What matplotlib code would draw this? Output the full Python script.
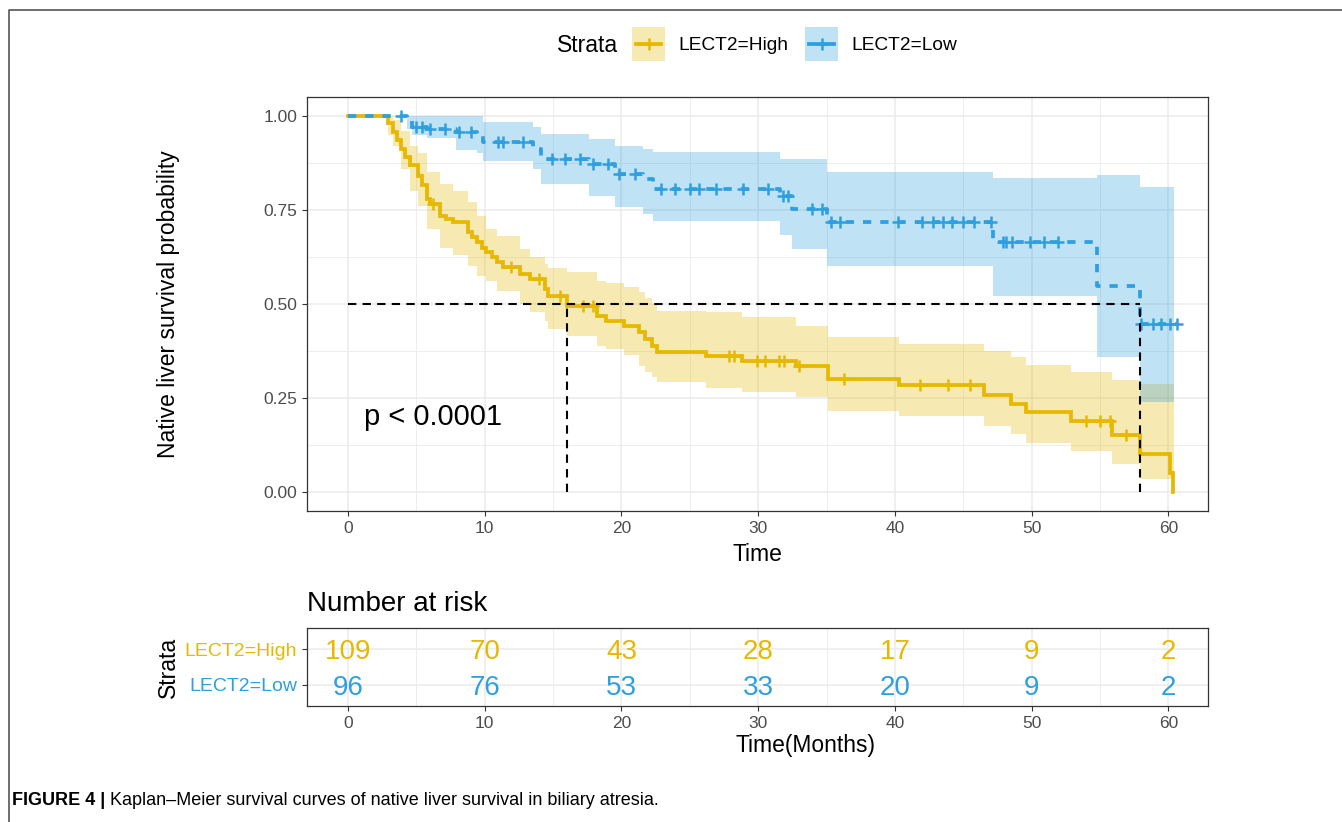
import numpy as np
import matplotlib.pyplot as plt
from matplotlib.patches import Rectangle

plt.rcParams['font.family'] = ['Liberation Sans', 'DejaVu Sans']

GOLD = '#E7B800'
BLUE = '#2E9FDF'

# LECT2=High survival curve: step start times and survival after each step
high_t = [0, 2.95, 3.3, 3.6, 3.9, 4.2, 4.5, 5.1, 5.4, 5.75, 6.0, 6.7, 7.2, 7.7, 8.8,
          9.1, 9.4, 9.8, 10.1, 10.5, 10.9, 11.35, 12.6, 13.3, 14.4, 14.65, 16.0,
          18.2, 18.9, 20.2, 21.3, 21.7, 22.2, 22.6, 26.2, 28.8, 32.8, 35.1, 40.3,
          46.5, 48.5, 49.6, 52.9, 55.9, 57.95, 60.1, 60.35]
high_s = [1.0, 0.982, 0.957, 0.935, 0.912, 0.89, 0.868, 0.84, 0.815, 0.78, 0.766,
          0.735, 0.725, 0.717, 0.69, 0.677, 0.664, 0.65, 0.637, 0.624, 0.611, 0.598,
          0.58, 0.566, 0.54, 0.52, 0.495, 0.469, 0.456, 0.442, 0.425, 0.407, 0.389,
          0.372, 0.361, 0.349, 0.334, 0.30, 0.284, 0.258, 0.234, 0.212, 0.19, 0.151,
          0.101, 0.05, 0.0]
high_cens = [6.2, 11.95, 14.0, 15.5, 17.2, 17.9, 27.9, 28.2, 29.9, 30.5, 31.5, 31.9,
             33.0, 36.3, 41.8, 43.9, 45.5, 54.0, 55.0, 55.7, 56.9]
# confidence band of LECT2=High
high_ci_t = [0, 2.95, 3.3, 3.9, 4.5, 5.1, 5.75, 6.7, 7.7, 8.8, 9.4, 10.1, 10.9, 12.6,
             13.3, 14.4, 14.65, 16.0, 18.2, 18.9, 20.2, 21.3, 21.7, 22.2, 22.6, 26.2,
             28.8, 32.8, 35.1, 40.3, 46.5, 48.5, 49.6, 52.9, 55.9, 57.95, 60.4]
high_lo = [1.0, 0.95, 0.92, 0.86, 0.80, 0.76, 0.70, 0.65, 0.63, 0.60, 0.575, 0.56,
           0.535, 0.50, 0.48, 0.455, 0.434, 0.416, 0.389, 0.38, 0.365, 0.336, 0.32,
           0.305, 0.292, 0.278, 0.265, 0.252, 0.216, 0.203, 0.176, 0.154, 0.132, 0.11,
           0.074, 0.035, 0.035]
high_hi = [1.0, 1.0, 0.99, 0.96, 0.92, 0.90, 0.85, 0.82, 0.80, 0.77, 0.735, 0.70, 0.68,
           0.645, 0.625, 0.605, 0.595, 0.585, 0.562, 0.555, 0.545, 0.532, 0.515, 0.50,
           0.482, 0.478, 0.465, 0.442, 0.411, 0.394, 0.376, 0.358, 0.338, 0.318, 0.298,
           0.287, 0.287]

# LECT2=Low
low_t = [0, 4.3, 4.65, 5.75, 7.9, 9.4, 9.9, 13.55, 14.15, 17.6, 19.5, 21.6, 22.3,
         31.6, 32.5, 35.0, 47.2, 54.8, 57.9, 60.6]
low_s = [1.0, 0.988, 0.97, 0.964, 0.957, 0.95, 0.93, 0.912, 0.886, 0.872, 0.846,
         0.832, 0.806, 0.788, 0.753, 0.717, 0.664, 0.549, 0.447, 0.447]
low_cens = [3.9, 5.0, 5.4, 6.0, 7.1, 8.1, 9.0, 11.0, 11.35, 12.8, 14.9, 15.9, 17.0,
            17.9, 19.0, 19.8, 21.0, 22.9, 23.9, 25.0, 25.7, 26.95, 28.9, 30.7, 31.8,
            32.2, 33.9, 34.7, 35.35, 36.0, 40.2, 42.0, 42.8, 43.5, 44.2, 45.0, 45.8,
            47.0, 47.9, 48.1, 48.6, 49.85, 50.9, 51.9, 58.0, 58.85, 59.45, 60.1, 60.6]
low_ci_t = [0, 4.3, 4.65, 5.75, 7.9, 9.4, 9.9, 13.55, 14.15, 17.6, 19.5, 21.6, 22.3,
            31.6, 32.5, 35.0, 47.2, 54.8, 57.9, 60.4]
low_lo = [1.0, 0.965, 0.948, 0.94, 0.908, 0.90, 0.881, 0.859, 0.819, 0.788, 0.757,
          0.74, 0.72, 0.683, 0.646, 0.602, 0.522, 0.358, 0.239, 0.239]
low_hi = [1.0, 1.0, 1.0, 1.0, 1.0, 1.0, 0.983, 0.97, 0.952, 0.939, 0.921, 0.912,
          0.905, 0.886, 0.886, 0.85, 0.834, 0.843, 0.81, 0.81]

medians = [16.0, 57.9]

risk_times = [0, 10, 20, 30, 40, 50, 60]
risk_high = [109, 70, 43, 28, 17, 9, 2]
risk_low = [96, 76, 53, 33, 20, 9, 2]

W, H = 1342, 822
fig = plt.figure(figsize=(W / 100, H / 100), dpi=100)


def style_axes(ax):
    ax.set_xlim(-3.0, 62.9)
    ax.set_xticks(np.arange(0, 61, 10))
    ax.set_xticks(np.arange(5, 61, 10), minor=True)
    ax.grid(which='major', color='#EBEBEB', lw=1.1)
    ax.grid(which='minor', color='#EBEBEB', lw=0.6)
    ax.set_axisbelow(True)
    for sp in ax.spines.values():
        sp.set_color('#333333')
        sp.set_linewidth(0.9)
    ax.tick_params(which='major', length=3.5, width=0.8, color='#333333',
                   labelsize=12.5, labelcolor='#4D4D4D')
    ax.tick_params(which='minor', length=0)


# main KM panel
ax = fig.add_axes([307 / W, 1 - 511 / H, 901 / W, 414 / H])
style_axes(ax)
ax.set_ylim(-0.05, 1.05)
ax.set_yticks([0, 0.25, 0.5, 0.75, 1.0])
ax.set_yticks([0.125, 0.375, 0.625, 0.875], minor=True)
ax.set_yticklabels(['0.00', '0.25', '0.50', '0.75', '1.00'])

ax.fill_between(high_ci_t, high_lo, high_hi, step='post', color=GOLD, alpha=0.3, lw=0)
ax.fill_between(low_ci_t, low_lo, low_hi, step='post', color=BLUE, alpha=0.3, lw=0)

ax.step(high_t, high_s, where='post', color=GOLD, lw=2.7, solid_joinstyle='miter')
ax.step(low_t, low_s, where='post', color=BLUE, lw=2.7, ls=(0, (2.2, 2.4)))


def surv_at(ts, ss, t):
    i = np.searchsorted(ts, t, side='right') - 1
    return np.array(ss)[i]


ax.plot(high_cens, surv_at(high_t, high_s, high_cens), ls='none', marker='+',
        ms=9, mew=1.8, color=GOLD)
ax.plot(low_cens, surv_at(low_t, low_s, low_cens), ls='none', marker='+',
        ms=9, mew=1.8, color=BLUE)

# median survival lines
ax.plot([0, max(medians)], [0.5, 0.5], color='black', lw=1.5, ls=(0, (4, 3)), zorder=5)
for m in medians:
    ax.plot([m, m], [0, 0.5], color='black', lw=1.5, ls=(0, (4, 3)), zorder=5)

ax.text(1.2, 0.2, 'p < 0.0001', fontsize=21, va='center', ha='left')
ax.set_xlabel('Time', fontsize=16.5, labelpad=5)
ax.set_ylabel('Native liver survival probability', fontsize=16.5)
ax.yaxis.set_label_coords((180 - 307) / 901, 0.5)

# risk table
ax2 = fig.add_axes([307 / W, 1 - 706 / H, 901 / W, 78 / H])
style_axes(ax2)
ax2.set_ylim(0.4, 2.6)
ax2.set_yticks([1, 2])
ax2.set_yticklabels(['LECT2=Low', 'LECT2=High'], fontsize=14)
for lab, c in zip(ax2.get_yticklabels(), [BLUE, GOLD]):
    lab.set_color(c)
for t, nh, nl in zip(risk_times, risk_high, risk_low):
    ax2.text(t, 2, str(nh), color=GOLD, fontsize=20, ha='center', va='center_baseline')
    ax2.text(t, 1, str(nl), color=BLUE, fontsize=20, ha='center', va='center_baseline')
ax2.set_title('Number at risk', loc='left', fontsize=20, pad=12)
ax2.set_xlabel('Time(Months)', fontsize=16.5)
ax2.xaxis.set_label_coords((805 - 307) / 901, -(734 - 706) / 78)
ax2.set_ylabel('Strata', fontsize=16.5)
ax2.yaxis.set_label_coords((180 - 307) / 901, 0.5)

# overlay in pixel coordinates: frame, legend, caption
ov = fig.add_axes([0, 0, 1, 1], zorder=-1)
ov.set_xlim(0, W)
ov.set_ylim(H, 0)
ov.axis('off')
ov.plot([9, 9, W], [H, 10, 10], color='#555555', lw=1.2)

ov.text(557, 45, 'Strata', fontsize=16.5, va='center', ha='left')
for x0, c, lab in [(632, GOLD, 'LECT2=High'), (805, BLUE, 'LECT2=Low')]:
    ov.add_patch(Rectangle((x0, 27), 33, 34, color=c, alpha=0.3, lw=0))
    ov.plot([x0 + 4, x0 + 29], [44, 44], color=c, lw=2.7)
    ov.plot([x0 + 16.5], [44], marker='+', ms=9, mew=1.8, color=c)
    ov.text(x0 + 46, 45, lab, fontsize=13.8, va='center', ha='left')

cap1 = ov.text(12, 800, 'FIGURE 4 | ', fontsize=13, fontweight='bold', va='center', ha='left')
ov.annotate('Kaplan\u2013Meier survival curves of native liver survival in biliary atresia.',
            xy=(1, 0), xycoords=cap1, va='bottom', ha='left', fontsize=13)

fig.savefig('out.png', dpi=100)
